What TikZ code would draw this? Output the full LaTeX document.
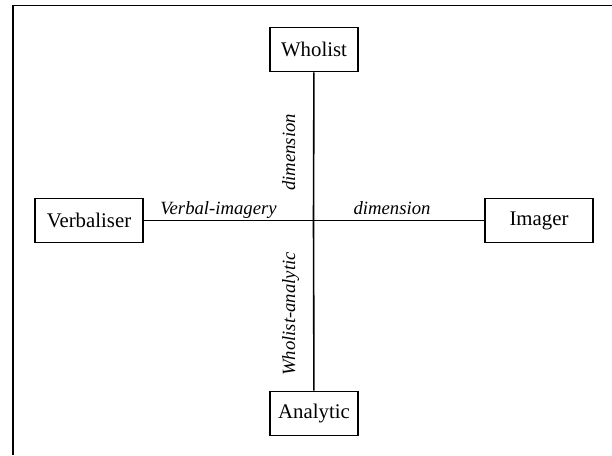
\documentclass[tikz,border=0pt]{standalone}
\usepackage{fontspec}
\setmainfont{Liberation Serif}
\usetikzlibrary{positioning}

\begin{document}
\begin{tikzpicture}[x=1pt,y=-1pt,
  stylebox/.style={draw,line width=1.6pt,minimum height=44pt,inner sep=0pt,font=\fontsize{20.8}{24}\selectfont},
  axis/.style={line width=1.6pt},
  dimlabel/.style={font=\fontsize{18.7}{22}\selectfont\itshape,inner sep=1pt,text depth=0.25em}]
\useasboundingbox (0,0) rectangle (612,455);
\draw[line width=1.6pt] (13,455) -- (13,5.5) -- (612,5.5);

\node[stylebox,minimum width=88pt] (wholist) at (314,49.5) {Wholist};
\node[stylebox,minimum width=88pt] (analytic) at (314,413.5) {Analytic};
\node[stylebox,minimum width=108pt] (verbaliser) at (89,220.5) {Verbaliser};
\node[stylebox,minimum width=108pt] (imager) at (539,220.5) {Imager};
\coordinate (centre) at (313.5,220.5);

\draw[axis] (verbaliser) -- node[dimlabel,pos=.44,above=1.8pt] {Verbal-imagery} (centre);
\draw[axis] (centre) -- node[dimlabel,pos=.46,above=1.8pt] {dimension} (imager);
\draw[axis] (analytic) -- coordinate[pos=.45] (wa) (centre);
\draw[axis] (centre) -- coordinate[pos=.46] (wd) (wholist);
\node[dimlabel,rotate=90,anchor=south] (walabel) at ([xshift=-15pt]wa) {Wholist-analytic};
\node[dimlabel,rotate=90,anchor=south] (wdlabel) at ([xshift=-15pt]wd) {dimension};

\end{tikzpicture}
\end{document}
